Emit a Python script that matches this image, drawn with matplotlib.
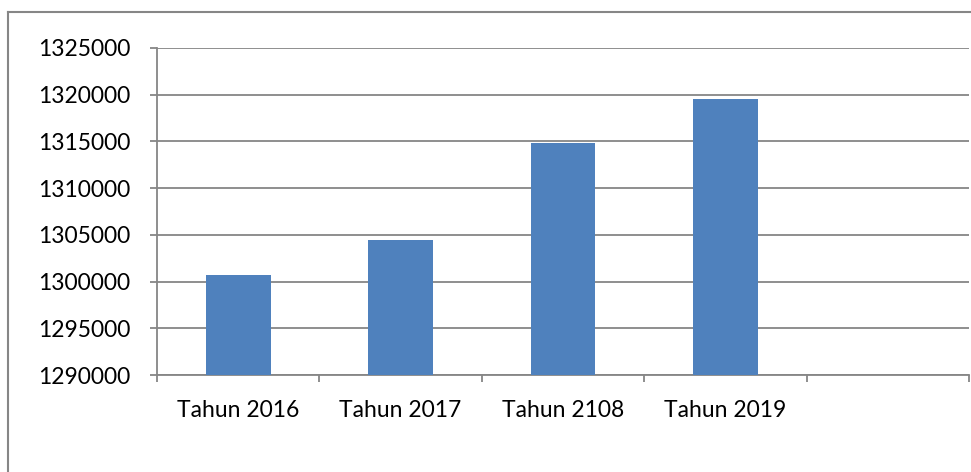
import matplotlib
matplotlib.use("Agg")
import matplotlib.pyplot as plt
from matplotlib.lines import Line2D

plt.rcParams['font.family'] = ['Lato', 'DejaVu Sans']

categories = ["Tahun 2016", "Tahun 2017", "Tahun 2108", "Tahun 2019"]
values = [1300700, 1304500, 1314800, 1319500]
y_ticks = [1290000, 1295000, 1300000, 1305000, 1310000, 1315000, 1320000, 1325000]

W, H = 971, 472
fig = plt.figure(figsize=(W / 100, H / 100), dpi=100)
ax = fig.add_axes([157 / W, (H - 375) / H, (969 - 157) / W, (375 - 48) / H])

grey = "#868686"
ax.bar(range(len(values)), values, width=0.4, color="#4F81BD", zorder=3)

ax.set_xlim(-0.5, 4.5)
ax.set_ylim(y_ticks[0], y_ticks[-1])
ax.set_yticks(y_ticks)
ax.set_yticklabels([str(t) for t in y_ticks])
ax.yaxis.grid(True, color=grey, linewidth=1.3)
ax.set_axisbelow(True)

# category boundaries get tick marks, labels sit in the middle
ax.set_xticks([i - 0.5 for i in range(6)])
ax.set_xticklabels([])
ax.set_xticks(range(len(categories)), minor=True)
ax.set_xticklabels(categories, minor=True)
ax.tick_params(axis="x", which="minor", length=0, pad=18, labelsize=16.5)
ax.tick_params(axis="x", which="major", length=5, width=1.3, color=grey, direction="out")
ax.tick_params(axis="y", length=5, width=1.3, color=grey, pad=14, labelsize=16.5)

for s in ["top", "right"]:
    ax.spines[s].set_visible(False)
for s in ["left", "bottom"]:
    ax.spines[s].set_color(grey)
    ax.spines[s].set_linewidth(1.3)

# outer chart border (only left and top visible in the crop)
fig.add_artist(Line2D([8 / W, 8 / W], [0, (H - 12) / H], color=grey, linewidth=1.5))
fig.add_artist(Line2D([8 / W, 1], [(H - 12) / H, (H - 12) / H], color=grey, linewidth=1.5))

fig.savefig("out.png", dpi=100)
